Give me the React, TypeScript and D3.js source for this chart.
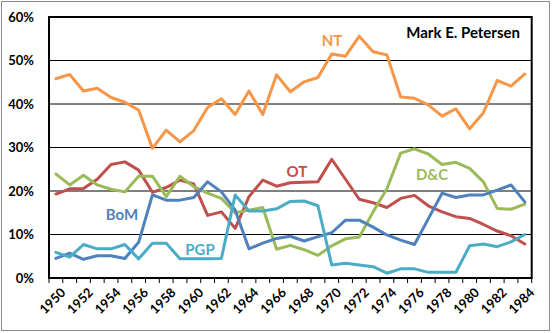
import React from "react";
import * as d3 from "d3";

const years: number[] = Array.from({ length: 35 }, (_, i) => 1950 + i);
const yTicks = [0, 10, 20, 30, 40, 50, 60];

const NT = [45.8, 46.8, 43.0, 43.6, 41.5, 40.4, 38.6, 29.8, 34.0, 31.3, 33.9, 39.2, 41.2, 37.6, 43.0, 37.6, 46.7, 42.8, 45.1, 46.1, 51.5, 51.0, 55.6, 52.0, 51.3, 41.6, 41.3, 39.8, 37.2, 38.9, 34.3, 38.0, 45.4, 44.1, 46.9];
const OT = [19.3, 20.5, 20.6, 22.7, 26.1, 26.7, 24.8, 19.7, 20.8, 22.5, 21.6, 14.4, 15.2, 11.4, 18.7, 22.5, 21.1, 21.9, 22.0, 22.1, 27.3, 22.7, 18.1, 17.3, 16.2, 18.3, 19.0, 16.6, 15.2, 14.1, 13.7, 12.3, 10.8, 9.7, 7.8];
const DC = [23.9, 21.4, 23.6, 21.4, 20.4, 19.8, 23.4, 23.4, 18.7, 23.4, 21.0, 19.5, 18.3, 15.0, 15.6, 16.2, 6.6, 7.5, 6.5, 5.2, 7.4, 9.0, 9.4, 15.2, 20.5, 28.7, 29.7, 28.5, 26.1, 26.6, 25.2, 22.1, 16.0, 15.8, 17.0];
const BoM = [4.5, 5.7, 4.3, 5.1, 5.1, 4.5, 8.2, 19.1, 17.9, 17.9, 18.5, 22.1, 19.8, 15.6, 6.7, 8.0, 9.1, 9.6, 8.5, 9.5, 10.4, 13.3, 13.3, 11.7, 9.9, 8.7, 7.7, 13.6, 19.5, 18.5, 19.1, 19.1, 20.2, 21.4, 17.5];
const PGP = [5.9, 4.8, 7.7, 6.7, 6.7, 7.7, 4.4, 8.0, 8.0, 4.4, 4.4, 4.4, 4.5, 19.1, 15.4, 15.4, 15.9, 17.6, 17.7, 16.6, 3.0, 3.4, 3.0, 2.6, 1.1, 2.1, 2.1, 1.3, 1.3, 1.3, 7.4, 7.8, 7.2, 8.3, 10.0];

const series = [
  { name: "OT", values: OT, color: "#C0504D", lx: 297, ly: 177 },
  { name: "D&C", values: DC, color: "#9BBB59", lx: 432, ly: 180 },
  { name: "BoM", values: BoM, color: "#4F81BD", lx: 122, ly: 220 },
  { name: "PGP", values: PGP, color: "#4BACC6", lx: 200, ly: 255 },
  { name: "NT", values: NT, color: "#F79646", lx: 332, ly: 46 },
];

const W = 553;
const H = 333;
const L = 49;
const R = 531.7;
const T = 17;
const B = 278;
const FONT = "Lato, 'Open Sans', 'Liberation Sans', sans-serif";

export default function App() {
  const x = d3.scaleBand<number>().domain(years).range([L, R]).paddingInner(0).paddingOuter(0);
  const y = d3.scaleLinear().domain([0, 60]).range([B, T]);
  const cx = (yr: number) => (x(yr) as number) + x.bandwidth() / 2;
  const line = d3
    .line<number>()
    .x((_, i) => cx(years[i]))
    .y((d) => y(d));
  const bounds = d3.range(years.length + 1).map((k) => L + k * x.bandwidth());

  return (
    <svg
      width={W}
      height={H}
      style={{ position: "absolute", left: 0, top: 0, background: "#fff" }}
      fontFamily={FONT}
    >
      <rect x={1.5} y={1.5} width={548} height={329} fill="#fff" stroke="#8c8c8c" strokeWidth={1} />
      {yTicks.slice(1, -1).map((t) => (
        <line key={t} x1={L} x2={R} y1={y(t)} y2={y(t)} stroke="#000" strokeWidth={1} />
      ))}
      {yTicks.map((t) => (
        <text
          key={"yl" + t}
          x={34}
          y={y(t)}
          dy="0.35em"
          textAnchor="end"
          fontSize={13}
          fontWeight="bold"
          fill="#000"
        >
          {t}%
        </text>
      ))}
      {bounds.map((bx, k) => (
        <line key={"tk" + k} x1={bx} x2={bx} y1={B} y2={B + 5} stroke="#000" strokeWidth={1} />
      ))}
      {years
        .filter((yr) => (yr - 1950) % 2 === 0)
        .map((yr) => (
          <text
            key={"xl" + yr}
            transform={`translate(${cx(yr) + 4},${B + 9}) rotate(-45)`}
            textAnchor="end"
            dy="0.7em"
            fontSize={13}
            fontWeight="bold"
            fill="#000"
          >
            {yr}
          </text>
        ))}
      {series.map((s) => (
        <path
          key={s.name}
          d={line(s.values) as string}
          fill="none"
          stroke={s.color}
          strokeWidth={3}
          strokeLinejoin="round"
          strokeLinecap="round"
        />
      ))}
      <rect x={L} y={T} width={R - L} height={B - T} fill="none" stroke="#000" strokeWidth={2} />
      {series.map((s) => (
        <text
          key={"lab" + s.name}
          x={s.lx}
          y={s.ly}
          textAnchor="middle"
          fontSize={15}
          fontWeight="bold"
          fill={s.color}
        >
          {s.name}
        </text>
      ))}
      <text x={520} y={38} textAnchor="end" fontSize={15} fontWeight="bold" fill="#000">
        Mark E. Petersen
      </text>
    </svg>
  );
}
